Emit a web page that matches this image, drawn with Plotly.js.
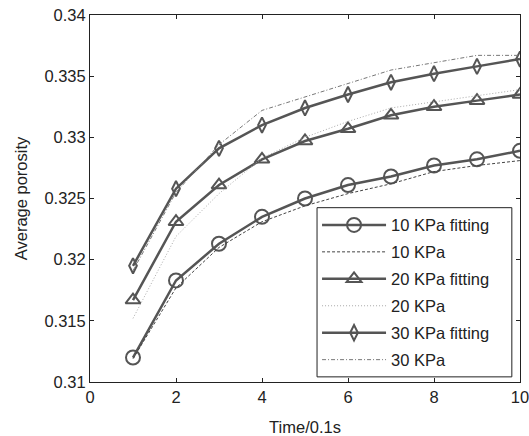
<!DOCTYPE html>
<html>
<head>
<meta charset="utf-8">
<script src="https://cdn.plot.ly/plotly-3.0.1.min.js"></script>
<style>html,body{margin:0;padding:0;background:#fff;}#chart{width:529px;height:436px;}</style>
</head>
<body>
<div id="chart"></div>
<script>
// Data
const time = [1, 2, 3, 4, 5, 6, 7, 8, 9, 10];
const fit10 = [0.3120, 0.3183, 0.3213, 0.3235, 0.3250, 0.3261, 0.3268, 0.3277, 0.3282, 0.3289];
const exp10 = [0.3119, 0.3177, 0.3210, 0.3231, 0.3244, 0.3254, 0.3262, 0.3272, 0.3277, 0.3281];
const fit20 = [0.3167, 0.3231, 0.3261, 0.3282, 0.3297, 0.3307, 0.3318, 0.3325, 0.3330, 0.3335];
const exp20 = [0.3152, 0.3219, 0.3254, 0.3283, 0.3300, 0.3313, 0.3324, 0.3329, 0.3334, 0.3339];
const fit30 = [0.3195, 0.3258, 0.3291, 0.3310, 0.3324, 0.3335, 0.3345, 0.3352, 0.3358, 0.3364];
const exp30 = [0.3191, 0.3255, 0.3294, 0.3322, 0.3333, 0.3344, 0.3355, 0.3361, 0.3367, 0.3367];
const seriesNames = ["10 KPa fitting", "10 KPa", "20 KPa fitting", "20 KPa", "30 KPa fitting", "30 KPa"];
const xTickVals = [0, 2, 4, 6, 8, 10];
const xTickText = ["0", "2", "4", "6", "8", "10"];
const yTickVals = [0.31, 0.315, 0.32, 0.325, 0.33, 0.335, 0.34];
const yTickText = ["0.31", "0.315", "0.32", "0.325", "0.33", "0.335", "0.34"];

const fitColor = "#555555";
function fitTrace(y, name, symbol, size) {
  return {x: time, y: y, name: name, legendgroup: name, type: "scatter", mode: "lines+markers",
    line: {color: fitColor, width: 2.5},
    marker: {symbol: symbol, size: size, color: fitColor, line: {color: fitColor, width: 2}}};
}
function expTrace(y, name, color, dash) {
  return {x: time, y: y, name: name, legendgroup: name, type: "scatter", mode: "lines",
    line: {color: color, width: 1, dash: dash}};
}
const data = [
  fitTrace(fit10, seriesNames[0], "circle-open", 14),
  expTrace(exp10, seriesNames[1], "#444444", "3px,2px"),
  fitTrace(fit20, seriesNames[2], "triangle-up-open", 13),
  expTrace(exp20, seriesNames[3], "#aaaaaa", "1px,2px"),
  fitTrace(fit30, seriesNames[4], "diamond-tall-open", 11),
  expTrace(exp30, seriesNames[5], "#777777", "4px,2px,1px,2px")
];
const font = {family: "Liberation Sans, Arial, sans-serif", size: 16.5, color: "#222"};
const layout = {
  width: 529, height: 436,
  margin: {l: 90, r: 9, t: 15, b: 54},
  paper_bgcolor: "#fff", plot_bgcolor: "#fff",
  font: font,
  showlegend: true,
  xaxis: {range: [0, 10], tickvals: xTickVals, ticktext: xTickText, ticklabeloverflow: "allow",
    showgrid: false, zeroline: false, showline: true, linecolor: "#222", linewidth: 1,
    mirror: "ticks", ticks: "inside", ticklen: 4, tickcolor: "#222",
    title: {text: "Time/0.1s", font: font, standoff: 16}},
  yaxis: {range: [0.31, 0.34], tickvals: yTickVals, ticktext: yTickText, ticklabeloverflow: "allow",
    showgrid: false, zeroline: false, showline: true, linecolor: "#222", linewidth: 1,
    mirror: "ticks", ticks: "inside", ticklen: 4, tickcolor: "#222",
    title: {text: "Average porosity", font: font, standoff: 12}},
  legend: {x: 0.528, y: 0.475, xanchor: "left", yanchor: "top",
    bgcolor: "rgba(0,0,0,0)", borderwidth: 0,
    font: font, itemwidth: 64, tracegroupgap: 2.5},
  shapes: [{type: "rect", xref: "paper", yref: "paper", layer: "above",
    x0: 0.528, x1: 0.981, y0: 0.014, y1: 0.475,
    fillcolor: "#fff", line: {color: "#222", width: 1}}]
};
Plotly.newPlot("chart", data, layout, {displayModeBar: false, staticPlot: true});
</script>
</body>
</html>
